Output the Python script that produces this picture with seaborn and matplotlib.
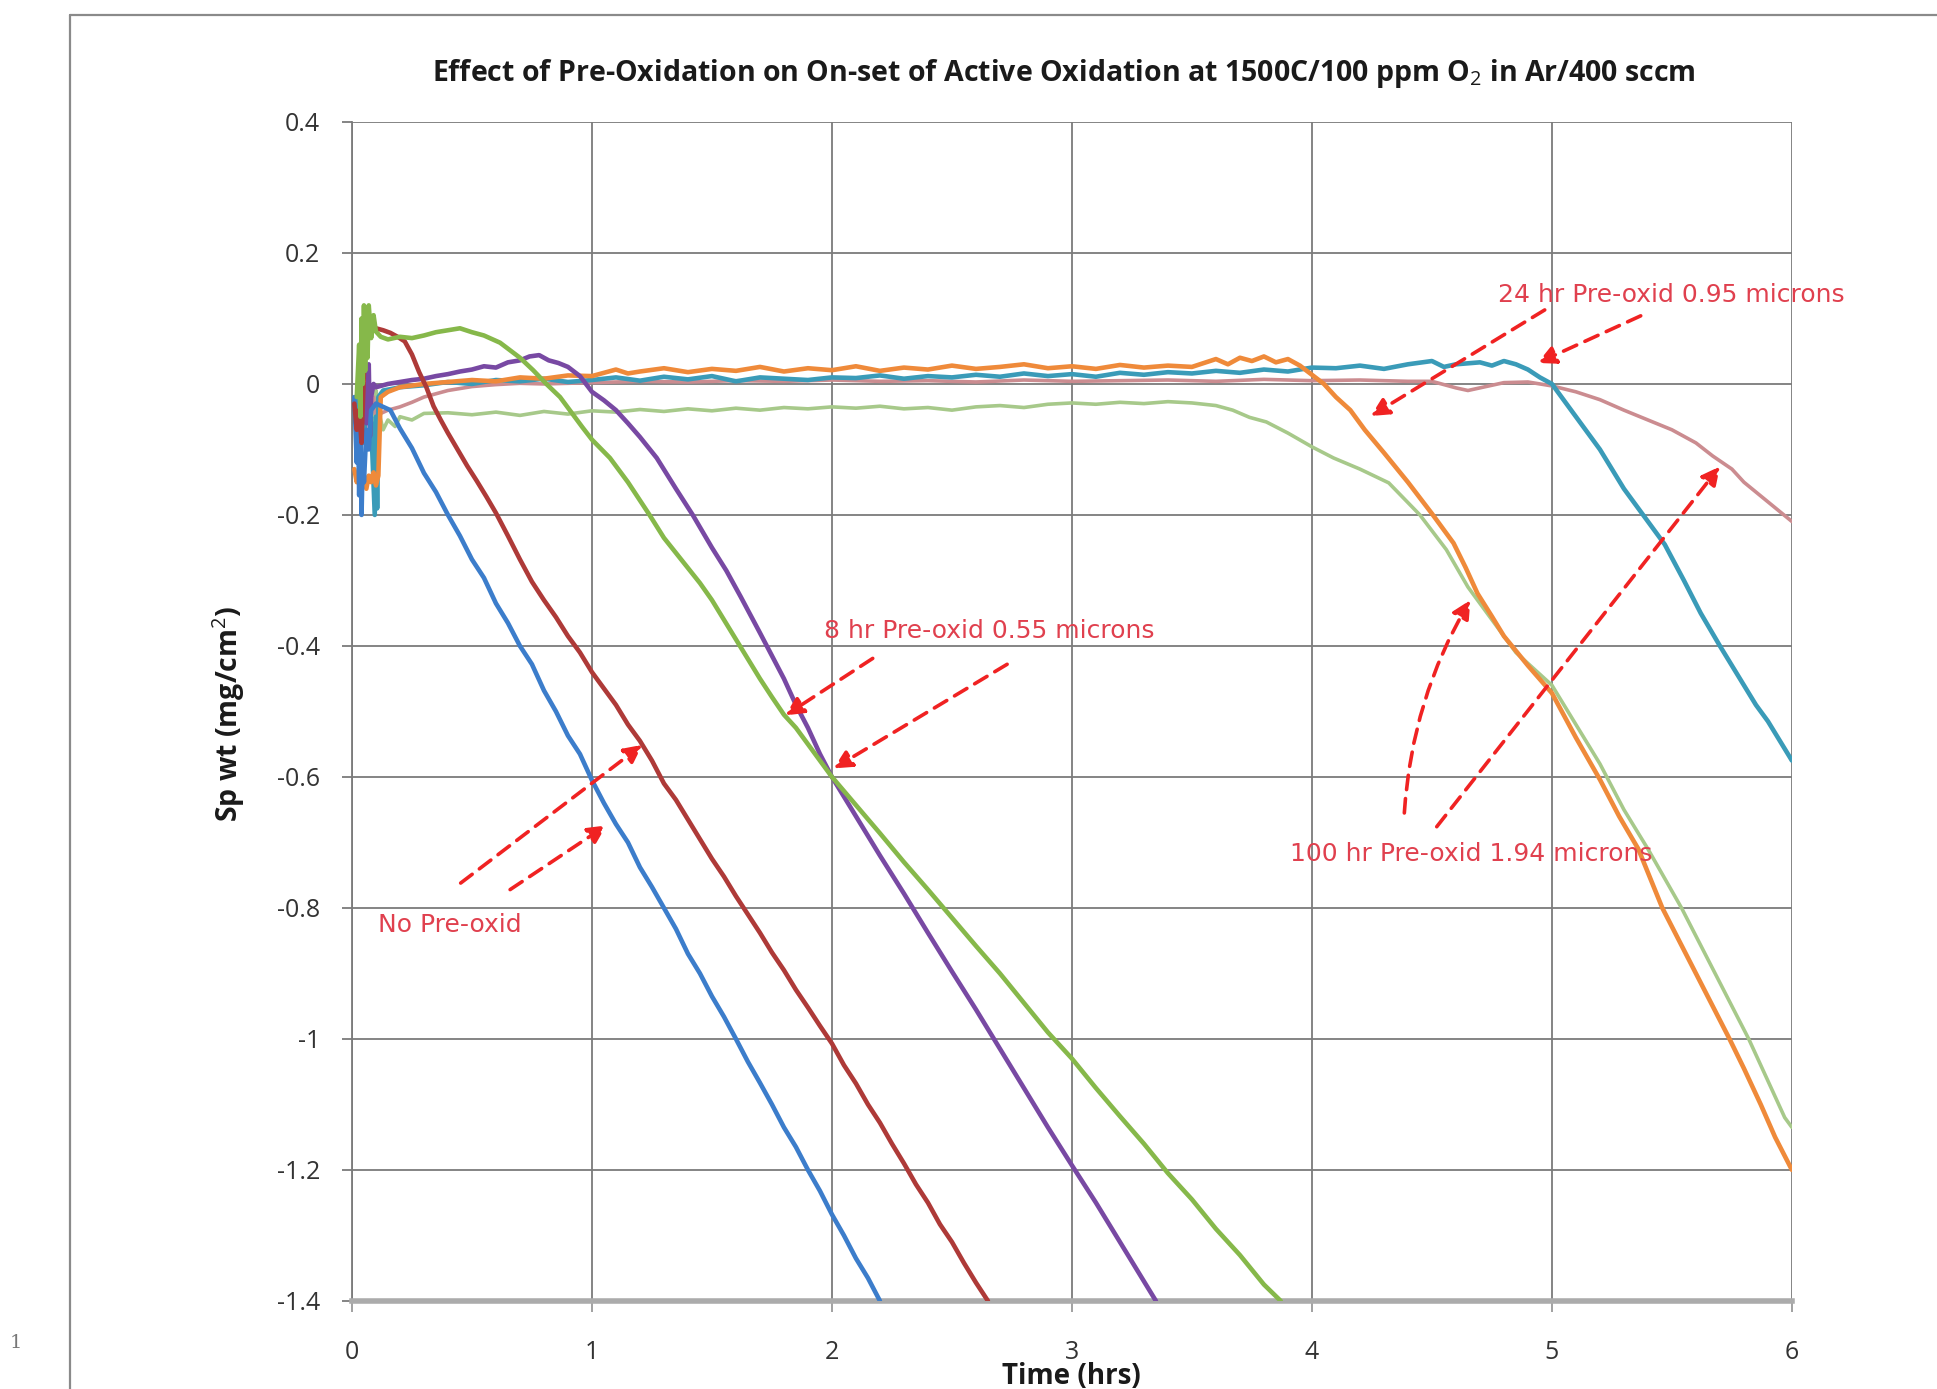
import matplotlib
matplotlib.use("Agg")
import matplotlib.pyplot as plt
from matplotlib.lines import Line2D
import seaborn as sns
import pandas as pd

# ---------------- data ----------------
blue_t = [0.01, 0.02, 0.025, 0.03, 0.035, 0.04, 0.045, 0.05, 0.06, 0.07, 0.08, 0.10, 0.13, 0.16, 0.20, 0.25, 0.30,
          0.35, 0.40, 0.45, 0.50, 0.55, 0.60, 0.65, 0.70, 0.75, 0.80, 0.85, 0.90, 0.95, 1.00, 1.05, 1.10, 1.15,
          1.20, 1.25, 1.30, 1.35, 1.40, 1.45, 1.50, 1.55, 1.60, 1.65, 1.70, 1.75, 1.80, 1.85, 1.90, 1.95, 2.00,
          2.05, 2.10, 2.15, 2.20]
blue_y = [-0.02, -0.12, -0.05, -0.17, -0.08, -0.20, -0.11, -0.15, -0.07, -0.10, -0.04, -0.03, -0.035, -0.04,
          -0.068, -0.098, -0.136, -0.165, -0.200, -0.232, -0.268, -0.296, -0.335, -0.365, -0.400, -0.428, -0.468,
          -0.500, -0.537, -0.565, -0.605, -0.640, -0.672, -0.700, -0.738, -0.768, -0.800, -0.832, -0.870, -0.900,
          -0.935, -0.966, -1.000, -1.035, -1.067, -1.100, -1.135, -1.165, -1.200, -1.232, -1.268, -1.300, -1.335,
          -1.365, -1.400]

red_t = [0.01, 0.02, 0.03, 0.04, 0.05, 0.06, 0.08, 0.10, 0.13, 0.16, 0.19, 0.22, 0.25, 0.28, 0.31, 0.34, 0.37,
         0.40, 0.44, 0.48, 0.52, 0.56, 0.60, 0.65, 0.70, 0.75, 0.80, 0.85, 0.90, 0.95, 1.00, 1.05, 1.10, 1.15,
         1.20, 1.25, 1.30, 1.35, 1.40, 1.45, 1.50, 1.55, 1.60, 1.65, 1.70, 1.75, 1.80, 1.85, 1.90, 1.95, 2.00,
         2.05, 2.10, 2.15, 2.20, 2.25, 2.30, 2.35, 2.40, 2.45, 2.50, 2.55, 2.60, 2.65]
red_y = [-0.03, -0.07, -0.04, -0.09, 0.02, 0.07, 0.09, 0.085, 0.082, 0.078, 0.072, 0.065, 0.045, 0.018, -0.005,
         -0.034, -0.055, -0.075, -0.100, -0.125, -0.148, -0.172, -0.197, -0.232, -0.268, -0.302, -0.330, -0.356,
         -0.385, -0.410, -0.440, -0.465, -0.490, -0.520, -0.545, -0.575, -0.610, -0.635, -0.665, -0.695, -0.725,
         -0.752, -0.782, -0.810, -0.838, -0.868, -0.895, -0.925, -0.952, -0.980, -1.007, -1.040, -1.068, -1.100,
         -1.128, -1.160, -1.190, -1.222, -1.250, -1.283, -1.310, -1.342, -1.372, -1.400]

green_t = [0.02, 0.03, 0.035, 0.04, 0.045, 0.05, 0.055, 0.06, 0.065, 0.07, 0.08, 0.09, 0.10, 0.12, 0.15, 0.20,
           0.25, 0.30, 0.35, 0.40, 0.45, 0.50, 0.55, 0.617, 0.70, 0.755, 0.81, 0.867, 0.96, 1.00, 1.075, 1.15,
           1.24, 1.30, 1.35, 1.45, 1.50, 1.55, 1.60, 1.65, 1.70, 1.75, 1.80, 1.85, 1.90, 1.95, 2.00, 2.10, 2.20,
           2.30, 2.40, 2.50, 2.60, 2.70, 2.80, 2.90, 3.00, 3.10, 3.20, 3.30, 3.40, 3.50, 3.60, 3.70, 3.80, 3.87]
green_y = [-0.02, 0.06, -0.05, 0.10, 0.0, 0.12, 0.02, 0.115, 0.04, 0.12, 0.07, 0.105, 0.08, 0.072, 0.068, 0.072,
           0.070, 0.074, 0.079, 0.082, 0.085, 0.079, 0.074, 0.063, 0.040, 0.021, 0.0, -0.020, -0.066, -0.085,
           -0.113, -0.150, -0.200, -0.235, -0.258, -0.304, -0.330, -0.360, -0.390, -0.420, -0.450, -0.478, -0.505,
           -0.525, -0.550, -0.575, -0.600, -0.643, -0.686, -0.730, -0.772, -0.815, -0.858, -0.900, -0.945, -0.990,
           -1.030, -1.075, -1.118, -1.160, -1.205, -1.245, -1.290, -1.330, -1.375, -1.400]

purple_t = [0.04, 0.05, 0.06, 0.07, 0.075, 0.08, 0.09, 0.10, 0.15, 0.20, 0.25, 0.30, 0.35, 0.40, 0.45, 0.50, 0.55,
            0.60, 0.65, 0.70, 0.74, 0.78, 0.82, 0.86, 0.90, 0.95, 1.00, 1.05, 1.10, 1.15, 1.20, 1.27, 1.35, 1.42,
            1.50, 1.56, 1.62, 1.70, 1.75, 1.80, 1.85, 1.90, 1.95, 2.00, 2.10, 2.20, 2.30, 2.40, 2.50, 2.60, 2.70,
            2.80, 2.90, 3.00, 3.10, 3.20, 3.30, 3.35]
purple_y = [-0.03, 0.0, -0.06, 0.03, -0.08, -0.02, 0.0, -0.005, 0.0, 0.003, 0.006, 0.008, 0.012, 0.015, 0.019,
            0.022, 0.027, 0.025, 0.033, 0.036, 0.042, 0.044, 0.036, 0.032, 0.026, 0.012, -0.012, -0.025, -0.040,
            -0.060, -0.081, -0.113, -0.160, -0.200, -0.250, -0.285, -0.325, -0.380, -0.415, -0.450, -0.490,
            -0.525, -0.565, -0.600, -0.660, -0.720, -0.778, -0.838, -0.897, -0.955, -1.015, -1.075, -1.135,
            -1.193, -1.250, -1.310, -1.370, -1.400]

teal_t = [0.02, 0.03, 0.04, 0.05, 0.06, 0.08, 0.095, 0.10, 0.105, 0.11, 0.13, 0.16, 0.20, 0.30, 0.40, 0.50, 0.60,
          0.70, 0.80, 0.90, 1.00, 1.10, 1.20, 1.30, 1.40, 1.50, 1.60, 1.70, 1.80, 1.90, 2.00, 2.10, 2.20, 2.30,
          2.40, 2.50, 2.60, 2.70, 2.80, 2.90, 3.00, 3.10, 3.20, 3.30, 3.40, 3.50, 3.60, 3.70, 3.80, 3.90, 4.00,
          4.10, 4.20, 4.30, 4.40, 4.50, 4.55, 4.60, 4.70, 4.75, 4.80, 4.85, 4.90, 4.95, 5.00, 5.05, 5.10, 5.15,
          5.20, 5.25, 5.30, 5.35, 5.40, 5.47, 5.55, 5.62, 5.70, 5.75, 5.80, 5.85, 5.90, 5.95, 6.00]
teal_y = [-0.02, -0.11, -0.04, -0.09, -0.02, -0.06, -0.20, -0.05, -0.19, -0.02, -0.01, -0.008, -0.005, -0.002,
          0.003, 0.0, 0.006, 0.004, 0.008, 0.003, 0.006, 0.010, 0.005, 0.011, 0.007, 0.012, 0.004, 0.010, 0.008,
          0.006, 0.010, 0.009, 0.013, 0.008, 0.012, 0.010, 0.014, 0.011, 0.016, 0.012, 0.015, 0.011, 0.017, 0.014,
          0.018, 0.016, 0.020, 0.017, 0.022, 0.019, 0.025, 0.024, 0.028, 0.023, 0.030, 0.035, 0.026, 0.030,
          0.033, 0.028, 0.035, 0.030, 0.022, 0.010, 0.0, -0.025, -0.050, -0.075, -0.100, -0.130, -0.160, -0.185,
          -0.210, -0.245, -0.300, -0.350, -0.400, -0.430, -0.460, -0.490, -0.515, -0.545, -0.575]

orange_t = [0.01, 0.02, 0.03, 0.04, 0.05, 0.06, 0.07, 0.08, 0.09, 0.10, 0.11, 0.12, 0.15, 0.20, 0.30, 0.40, 0.50,
            0.60, 0.70, 0.80, 0.90, 1.00, 1.10, 1.15, 1.20, 1.30, 1.40, 1.50, 1.60, 1.70, 1.80, 1.90, 2.00, 2.10,
            2.20, 2.30, 2.40, 2.50, 2.60, 2.70, 2.80, 2.90, 3.00, 3.10, 3.20, 3.30, 3.40, 3.50, 3.60, 3.65, 3.70,
            3.75, 3.80, 3.85, 3.90, 3.95, 4.00, 4.05, 4.10, 4.16, 4.22, 4.30, 4.40, 4.50, 4.59, 4.64, 4.69, 4.75,
            4.80, 4.90, 5.00, 5.10, 5.20, 5.28, 5.36, 5.46, 5.53, 5.60, 5.67, 5.74, 5.80, 5.87, 5.93, 6.00]
orange_y = [-0.13, -0.15, -0.135, -0.155, -0.14, -0.16, -0.14, -0.15, -0.135, -0.155, -0.14, -0.02, -0.012, -0.005,
            0.0, 0.003, 0.006, 0.004, 0.010, 0.008, 0.013, 0.012, 0.022, 0.016, 0.019, 0.024, 0.018, 0.023, 0.020,
            0.026, 0.019, 0.024, 0.021, 0.027, 0.020, 0.025, 0.022, 0.028, 0.023, 0.026, 0.030, 0.024, 0.027,
            0.023, 0.029, 0.025, 0.028, 0.026, 0.038, 0.030, 0.040, 0.035, 0.042, 0.033, 0.038, 0.028, 0.014, 0.0,
            -0.020, -0.040, -0.070, -0.105, -0.150, -0.198, -0.243, -0.280, -0.320, -0.355, -0.385, -0.430,
            -0.472, -0.540, -0.604, -0.660, -0.710, -0.800, -0.850, -0.900, -0.950, -1.000, -1.045, -1.100,
            -1.150, -1.200]

pink_t = [0.02, 0.04, 0.06, 0.08, 0.09, 0.10, 0.12, 0.15, 0.20, 0.25, 0.30, 0.35, 0.40, 0.45, 0.50, 0.60, 0.70,
          0.80, 1.00, 1.20, 1.40, 1.60, 1.80, 2.00, 2.20, 2.40, 2.60, 2.80, 3.00, 3.20, 3.40, 3.60, 3.80, 4.00,
          4.20, 4.40, 4.50, 4.60, 4.65, 4.70, 4.80, 4.90, 4.95, 5.00, 5.10, 5.20, 5.30, 5.40, 5.50, 5.60, 5.67,
          5.75, 5.80, 5.85, 5.90, 5.95, 6.00]
pink_y = [-0.01, -0.04, -0.02, -0.05, -0.02, -0.05, -0.045, -0.04, -0.035, -0.028, -0.02, -0.015, -0.01, -0.007,
          -0.004, -0.001, 0.001, 0.0, 0.002, 0.004, 0.003, 0.005, 0.004, 0.006, 0.004, 0.005, 0.003, 0.006,
          0.004, 0.005, 0.006, 0.004, 0.007, 0.005, 0.006, 0.004, 0.004, -0.006, -0.010, -0.006, 0.002, 0.003,
          0.0, -0.003, -0.012, -0.024, -0.040, -0.055, -0.070, -0.090, -0.110, -0.130, -0.150, -0.165, -0.180,
          -0.195, -0.210]

lgreen_t = [0.08, 0.09, 0.10, 0.105, 0.11, 0.13, 0.15, 0.18, 0.20, 0.25, 0.30, 0.40, 0.50, 0.60, 0.70, 0.80, 0.90,
            1.00, 1.10, 1.20, 1.30, 1.40, 1.50, 1.60, 1.70, 1.80, 1.90, 2.00, 2.10, 2.20, 2.30, 2.40, 2.50, 2.60,
            2.70, 2.80, 2.90, 3.00, 3.10, 3.20, 3.30, 3.40, 3.50, 3.60, 3.67, 3.74, 3.81, 3.90, 4.00, 4.09, 4.20,
            4.32, 4.45, 4.56, 4.65, 4.75, 4.85, 5.00, 5.10, 5.20, 5.30, 5.40, 5.54, 5.68, 5.82, 5.92, 5.97, 6.00]
lgreen_y = [-0.03, -0.07, -0.01, -0.08, -0.04, -0.07, -0.055, -0.065, -0.05, -0.055, -0.045, -0.044, -0.047,
            -0.043, -0.048, -0.042, -0.046, -0.041, -0.043, -0.039, -0.042, -0.038, -0.041, -0.037, -0.040, -0.036,
            -0.038, -0.035, -0.037, -0.034, -0.038, -0.036, -0.040, -0.035, -0.033, -0.036, -0.031, -0.029, -0.031,
            -0.028, -0.030, -0.027, -0.029, -0.033, -0.040, -0.051, -0.058, -0.075, -0.096, -0.113, -0.130, -0.151,
            -0.200, -0.253, -0.310, -0.360, -0.410, -0.460, -0.520, -0.580, -0.650, -0.710, -0.800, -0.900, -1.000,
            -1.080, -1.120, -1.135]

x_ticks = [0, 1, 2, 3, 4, 5, 6]
x_tick_labels = ["0", "1", "2", "3", "4", "5", "6"]
y_ticks = [0.4, 0.2, 0.0, -0.2, -0.4, -0.6, -0.8, -1.0, -1.2, -1.4]
y_tick_labels = ["0.4", "0.2", "0", "-0.2", "-0.4", "-0.6", "-0.8", "-1", "-1.2", "-1.4"]

title_text = "Effect of Pre-Oxidation on On-set of Active Oxidation at 1500C/100 ppm O$_2$ in Ar/400 sccm"
xlabel_text = "Time (hrs)"
ylabel_text = "Sp wt (mg/cm$^2$)"

# annotation texts and their anchor points (data units)
note_texts = ["No Pre-oxid", "8 hr Pre-oxid 0.55 microns", "24 hr Pre-oxid 0.95 microns",
              "100 hr Pre-oxid 1.94 microns"]
note_x = [0.108, 1.966, 4.775, 3.91]
note_y = [-0.826, -0.377, 0.136, -0.717]

# arrows: (tail x, tail y, tip x, tip y, curvature)
arrows = [
    (0.453, -0.762, 1.21, -0.551, 0.0),
    (0.659, -0.772, 1.06, -0.674, 0.0),
    (2.17, -0.419, 1.806, -0.506, 0.0),
    (2.73, -0.428, 2.007, -0.587, 0.0),
    (4.97, 0.113, 4.245, -0.049, 0.0),
    (5.37, 0.104, 4.94, 0.032, 0.0),
    (4.385, -0.655, 4.66, -0.33, -0.12),
    (4.52, -0.676, 5.70, -0.126, 0.0),
]

# ---------------- styling ----------------
sns.set_theme(style="white")
plt.rcParams['font.family'] = ['Open Sans', 'DejaVu Sans']
plt.rcParams['mathtext.fontset'] = 'custom'
plt.rcParams['mathtext.rm'] = 'Open Sans'
plt.rcParams['mathtext.bf'] = 'Open Sans:bold'

fig = plt.figure(figsize=(19.37, 13.89), dpi=100)
fig.patch.set_facecolor("white")
ax = fig.add_axes([0.1817, 0.0634, 0.7434, 0.8488])

series = [
    (lgreen_t, lgreen_y, "#A7C98A", 2.6),
    (pink_t, pink_y, "#CB8C90", 2.6),
    (teal_t, teal_y, "#3A9BB8", 3.3),
    (orange_t, orange_y, "#EF8A3A", 3.3),
    (purple_t, purple_y, "#7849A3", 3.3),
    (blue_t, blue_y, "#3C7DCB", 3.3),
    (red_t, red_y, "#AE3A38", 3.3),
    (green_t, green_y, "#86B84A", 3.3),
]
for t, y, c, lw in series:
    df = pd.DataFrame({"t": t, "y": y})
    sns.lineplot(data=df, x="t", y="y", ax=ax, color=c, lw=lw, estimator=None, sort=False, zorder=3)

ax.set_xlim(0, 6)
ax.set_ylim(-1.4, 0.4)
ax.set_xticks(x_ticks)
ax.set_xticklabels(x_tick_labels)
ax.set_yticks(y_ticks)
ax.set_yticklabels(y_tick_labels)
ax.set_xlabel("")
ax.set_ylabel("")
ax.grid(True, color="#7b7b7b", lw=1.3, zorder=1)
ax.set_axisbelow(True)
for s in ["top", "right"]:
    ax.spines[s].set_visible(False)
ax.spines["left"].set_color("#7b7b7b")
ax.spines["left"].set_linewidth(1.3)
ax.spines["bottom"].set_color("#ababab")
ax.spines["bottom"].set_linewidth(4)
ax.tick_params(axis="y", length=7, width=1.3, color="#7b7b7b", pad=16, labelsize=18, labelcolor="#333333",
               left=True)
ax.tick_params(axis="x", length=8, width=1.3, color="#9a9a9a", pad=20, labelsize=18, labelcolor="#333333",
               bottom=True)

# titles / labels
fig.text(0.5494, 1 - 74 / 1389, title_text, ha="center", va="center", fontsize=20.5, fontweight="bold",
         color="#1a1a1a")
fig.text(229 / 1937, 1 - 714 / 1389, ylabel_text, ha="center", va="center", rotation=90, fontsize=20.5,
         fontweight="bold", color="#1a1a1a")
fig.text(1071 / 1937, 1 - 1376 / 1389, xlabel_text, ha="center", va="center", fontsize=20,
         fontweight="bold", color="#1a1a1a")

# annotations
text_color = "#E0404E"
arrow_color = "#F02222"
for txt, x, y in zip(note_texts, note_x, note_y):
    ax.text(x, y, txt, ha="left", va="center", fontsize=18, color=text_color, clip_on=False, zorder=6,
            family=["DejaVu Sans"])
for x0, y0, x1, y1, rad in arrows:
    ax.annotate("", xy=(x1, y1), xytext=(x0, y0),
                arrowprops=dict(arrowstyle="-|>,head_length=0.9,head_width=0.45", color=arrow_color, lw=2.6,
                                linestyle=(0, (4, 2.5)), shrinkA=0, shrinkB=0,
                                connectionstyle=f"arc3,rad={rad}"),
                zorder=5, annotation_clip=False)

# outer frame of the chart area and stray page number
fig.add_artist(Line2D([70 / 1937, 70 / 1937], [0, 1 - 15 / 1389], transform=fig.transFigure,
                      color="#8a8a8a", lw=1.6))
fig.add_artist(Line2D([70 / 1937, 1.0], [1 - 15 / 1389, 1 - 15 / 1389], transform=fig.transFigure,
                      color="#8a8a8a", lw=1.6))
fig.text(10 / 1937, 1 - 1343 / 1389, "1", fontsize=14, color="#777777", family="DejaVu Serif",
         ha="left", va="center")

fig.savefig("out.png", dpi=100, facecolor="white")
